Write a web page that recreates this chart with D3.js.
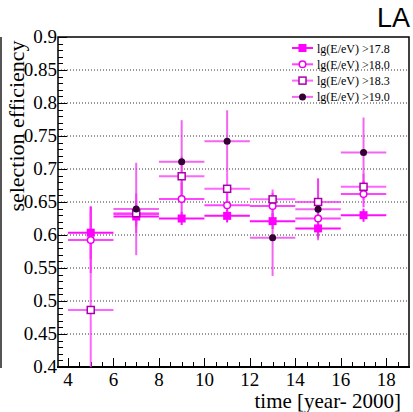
<!DOCTYPE html>
<html>
<head>
<meta charset="utf-8">
<script src="https://cdn.jsdelivr.net/npm/d3@7"></script>
<style>
  body { margin: 0; background: #fff; }
  svg { display: block; }
</style>
</head>
<body>
<div id="chart-area"></div>
<script>
var width = 413,
    height = 412;

// data
var years = [5, 7, 9, 11, 13, 15, 17];
var eff178 = [0.6035, 0.628, 0.625, 0.629, 0.621, 0.610, 0.630];
var err178 = [0.04, 0.012, 0.01, 0.01, 0.012, 0.012, 0.01];
var eff180 = [0.5924, 0.632, 0.6545, 0.645, 0.644, 0.625, 0.662];
var err180 = [0.05, 0.02, 0.025, 0.02, 0.02, 0.03, 0.02];
var eff183 = [0.4864, 0.633, 0.689, 0.670, 0.654, 0.650, 0.673];
var err183 = [0.15, 0.03, 0.03, 0.025, 0.015, 0.035, 0.02];
var eff190 = [null, 0.6394, 0.711, 0.742, 0.596, 0.639, 0.725];
var err190 = [null, 0.07, 0.063, 0.047, 0.058, 0.047, 0.053];
var labels = ["lg(E/eV) >17.8", "lg(E/eV) >18.0", "lg(E/eV) >18.3", "lg(E/eV) >19.0"];
var xTicks = [4, 6, 8, 10, 12, 14, 16, 18];
var yTicks = [0.4, 0.45, 0.5, 0.55, 0.6, 0.65, 0.7, 0.75, 0.8, 0.85, 0.9];

var series = [
  {label: labels[0], y: eff178, e: eff178.map((d, i) => err178[i]), marker: "fsquare", color: "#ff00ff", bar: "#ff00ff", op: 0.95},
  {label: labels[1], y: eff180, e: err180, marker: "ocircle", color: "#ee00ee", bar: "#ff22ff", op: 0.85},
  {label: labels[2], y: eff183, e: err183, marker: "osquare", color: "#aa00aa", bar: "#ff33ff", op: 0.75},
  {label: labels[3], y: eff190, e: err190, marker: "fcircle", color: "#330033", bar: "#ee33ee", op: 0.75}
];

var margin = {left: 58, right: 4, top: 37, bottom: 45};

var svg = d3.select("#chart-area").append("svg")
    .attr("width", width)
    .attr("height", height);

var x = d3.scaleLinear().domain([3.56, 19]).range([58, 409]);
var y = d3.scaleLinear().domain([0.4, 0.9]).range([367, 37]);

var serif = "'Liberation Serif', 'DejaVu Serif', serif";

// left edge of neighbouring panel
svg.append("line")
    .attr("x1", 1).attr("x2", 1).attr("y1", 37).attr("y2", 368)
    .style("stroke", "#555").style("stroke-width", 2);

// "LA" label clipped at top right
svg.append("text")
    .attr("x", 377).attr("y", 27)
    .style("font-family", "'Liberation Sans', Arial, sans-serif")
    .style("font-size", "27px")
    .text("LA");

// horizontal dotted grid
svg.selectAll(".grid")
    .data(yTicks.filter(d => d > 0.41 && d < 0.89))
    .enter().append("line")
    .attr("class", "grid")
    .attr("x1", x.range()[0]).attr("x2", x.range()[1])
    .attr("y1", d => y(d)).attr("y2", d => y(d))
    .style("stroke", "#333")
    .style("stroke-width", 1)
    .style("stroke-dasharray", "1,2");

// minor + major ticks
var yMinor = d3.range(0.4, 0.9001, 0.01);
svg.selectAll(".ytick")
    .data(yMinor)
    .enter().append("line")
    .attr("x1", 58)
    .attr("x2", (d, i) => i % 5 == 0 ? 67 : 63)
    .attr("y1", d => Math.round(y(d)) + 0.5).attr("y2", d => Math.round(y(d)) + 0.5)
    .style("stroke", "#000").style("stroke-width", 1);

var xMinor = d3.range(4, 18.76, 0.5);
svg.selectAll(".xtick")
    .data(xMinor)
    .enter().append("line")
    .attr("x1", d => Math.round(x(d)) + 0.5).attr("x2", d => Math.round(x(d)) + 0.5)
    .attr("y1", 367)
    .attr("y2", (d, i) => i % 4 == 0 ? 358 : 362)
    .style("stroke", "#000").style("stroke-width", 1);

// frame
svg.append("rect")
    .attr("x", 58).attr("y", 37)
    .attr("width", 351).attr("height", 330)
    .style("fill", "none").style("stroke", "#000").style("stroke-width", 1.5);
svg.append("line")
    .attr("x1", 57).attr("x2", 410).attr("y1", 367).attr("y2", 367)
    .style("stroke", "#000").style("stroke-width", 2);

// tick labels
svg.selectAll(".ylab")
    .data(yTicks)
    .enter().append("text")
    .attr("x", 57)
    .attr("y", d => y(d) + 6)
    .attr("text-anchor", "end")
    .style("font-family", serif)
    .style("font-size", "19px")
    .text(d => d3.format("")(+d.toFixed(2)));

svg.selectAll(".xlab")
    .data(xTicks)
    .enter().append("text")
    .attr("x", d => x(d))
    .attr("y", 386)
    .attr("text-anchor", "middle")
    .style("font-family", serif)
    .style("font-size", "19px")
    .text(d => d);

// axis titles
svg.append("text")
    .attr("x", 401).attr("y", 408)
    .attr("text-anchor", "end")
    .style("font-family", serif)
    .style("font-size", "21px")
    .text("time [year- 2000]");

svg.append("text")
    .attr("transform", "translate(24,126) rotate(-90)")
    .attr("text-anchor", "middle")
    .style("font-family", serif)
    .style("font-size", "22px")
    .text("selection efficiency");

// plot clip
svg.append("clipPath").attr("id", "clip")
  .append("rect").attr("x", 58).attr("y", 37).attr("width", 351).attr("height", 330);

var plot = svg.append("g").attr("clip-path", "url(#clip)");

function drawMarker(g, type, color, cx, cy) {
  if (type == "fsquare") {
    g.append("rect").attr("x", cx - 4).attr("y", cy - 4).attr("width", 8).attr("height", 8)
      .style("fill", color);
  } else if (type == "osquare") {
    g.append("rect").attr("x", cx - 3.5).attr("y", cy - 3.5).attr("width", 7).attr("height", 7)
      .style("fill", "#fff").style("stroke", color).style("stroke-width", 1.5);
  } else if (type == "ocircle") {
    g.append("circle").attr("cx", cx).attr("cy", cy).attr("r", 3.3)
      .style("fill", "#fff").style("stroke", color).style("stroke-width", 1.5);
  } else {
    g.append("circle").attr("cx", cx).attr("cy", cy).attr("r", 3.5)
      .style("fill", color);
  }
}

series.forEach(function(s) {
  var pts = years.map((yr, i) => ({x: yr, y: s.y[i], e: s.e[i]})).filter(d => d.y != null);
  var g = plot.append("g");
  g.selectAll(".hbar")
      .data(pts)
      .enter().append("line")
      .attr("x1", d => x(d.x - 1)).attr("x2", d => x(d.x + 1))
      .attr("y1", d => y(d.y)).attr("y2", d => y(d.y))
      .style("stroke", s.bar).style("stroke-opacity", s.op).style("stroke-width", 2);
  g.selectAll(".vbar")
      .data(pts)
      .enter().append("line")
      .attr("x1", d => x(d.x)).attr("x2", d => x(d.x))
      .attr("y1", d => y(d.y - d.e)).attr("y2", d => y(d.y + d.e))
      .style("stroke", s.bar).style("stroke-opacity", s.op).style("stroke-width", 2);
});

series.forEach(function(s) {
  years.forEach(function(yr, i) {
    if (s.y[i] == null) return;
    drawMarker(plot, s.marker, s.color, x(yr), y(s.y[i]));
  });
});

// legend
var leg = svg.selectAll(".legend")
    .data(series)
    .enter().append("g")
    .attr("transform", (d, i) => "translate(0," + (48 + i * 16.3) + ")");

leg.append("line")
    .attr("x1", 292).attr("x2", 313).attr("y1", 0).attr("y2", 0)
    .style("stroke", d => d.bar).style("stroke-opacity", d => d.op).style("stroke-width", 2);
leg.each(function(d) {
  drawMarker(d3.select(this), d.marker, d.color, 302.5, 0);
});
leg.append("text")
    .attr("x", 317).attr("y", 4.5)
    .style("font-family", serif)
    .style("font-size", "12px")
    .text(d => d.label);
</script>
</body>
</html>
